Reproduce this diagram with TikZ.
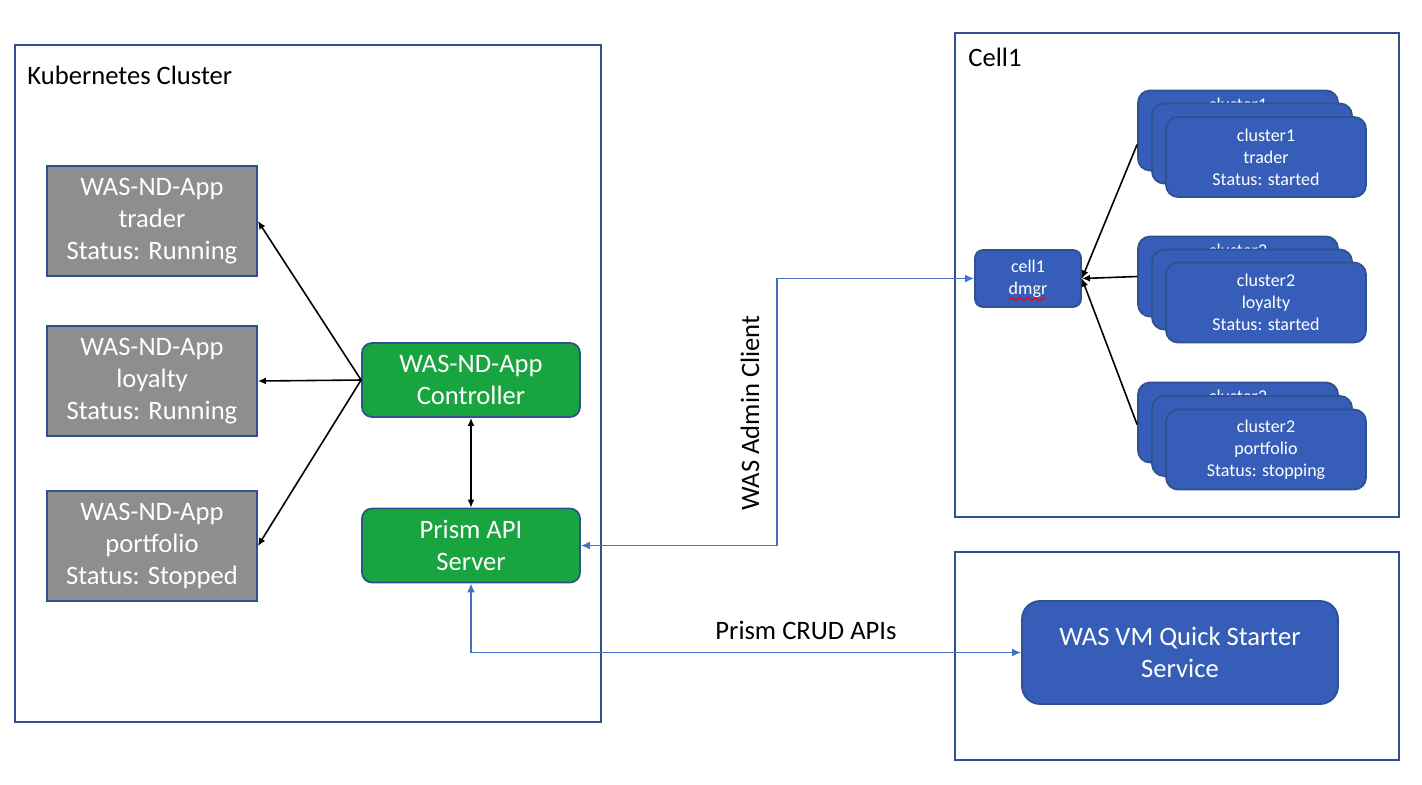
\documentclass[tikz,border=0pt]{standalone}
\usepackage{fontspec}
\setmainfont{Carlito}
\usepackage{tikz}
\usetikzlibrary{
	arrows.meta,
	positioning,
	decorations.pathmorphing,
}
\definecolor{edgeblue}{RGB}{47,82,143}
\definecolor{boxblue}{RGB}{54,94,184}
\definecolor{linkblue}{RGB}{68,114,196}
\definecolor{appgray}{RGB}{142,142,142}
\definecolor{ctrlgreen}{RGB}{24,164,62}
\tikzset{default box/.style={
	draw=edgeblue,
	line width=0.9pt,
	text=white,
	align=center,
	inner sep=0mm,
}}
\newcommand{\peek}[1]{\raisebox{-2.5pt}[0pt][0pt]{#1}\\\strut\\\strut}

\begin{document}
\begin{tikzpicture}[
x=0.5pt, y=-0.5pt,
line width=0.8pt,
big/.style={font=\fontsize{13.3}{16}\selectfont},
small/.style={font=\fontsize{9}{11}\selectfont},
]
\useasboundingbox (0,0) rectangle (1422,784);

\tikzset{
	app/.style={default box, big, fill=appgray, minimum width=105pt, minimum height=55pt},
	ctrl/.style={default box, big, fill=ctrlgreen, rounded corners=5pt, minimum width=109pt, minimum height=37pt},
	cl/.style={default box, small, fill=boxblue, rounded corners=6pt, minimum width=100pt, minimum height=40pt},
	container/.style={draw=edgeblue, line width=0.9pt},
	bk/.style={-{Latex[length=4pt,width=3.5pt]}, black},
	both/.style={{Latex[length=4pt,width=3.5pt]}-{Latex[length=4pt,width=3.5pt]}},
	lnk/.style={{Latex[length=4.5pt,width=4pt]}-{Latex[length=4.5pt,width=4pt]}, linkblue},
}

% containers
\draw[container] (15,45) rectangle (601,722);
\draw[container] (955,33) rectangle (1399,517);
\draw[container] (955,552) rectangle (1399,760);
\node(kube)[big, anchor=west] at(20,75) {Kubernetes Cluster};
\node(cell)[big, anchor=west] at(961,57) {Cell1};

\begin{scope}[every node/.style={app}]
\node(trader)		at(152,221)		{WAS-ND-App\\trader\\Status: Running};
\node(loyalty)		at(152,381)		{WAS-ND-App\\loyalty\\Status: Running};
\node(portfolio)	at(152,546)		{WAS-ND-App\\portfolio\\Status: Stopped};
\end{scope}

\begin{scope}[every node/.style={ctrl}]
\node(ctrl)		at(471,380)		{WAS-ND-App\\Controller};
\node(prism)	at(471,545.5)	{Prism API\\Server};
\end{scope}

\begin{scope}[every node/.style={cl}]
\node(dmgr)[minimum width=53pt, minimum height=28.5pt, rounded corners=4pt] at(1028,278.5) {cell1\\dmgr};
% stacked copies behind the front box
\node(c1b)	at(1238,130.5)	{\peek{cluster1}};
\node(c1m)	at(1252,143.5)	{};
\node(c1)	at(1266,157)	{cluster1\\trader\\Status: started};
\node(c2b)	at(1238,276.5)	{\peek{cluster2}};
\node(c2m)	at(1252,289.5)	{};
\node(c2)	at(1266,302.5)	{cluster2\\loyalty\\Status: started};
\node(c3b)	at(1238,422.5)	{\peek{cluster2}};
\node(c3m)	at(1252,436)	{};
\node(c3)	at(1266,449.5)	{cluster2\\portfolio\\Status: stopping};
\node(vm)[big, minimum width=158pt, minimum height=51.5pt, rounded corners=9pt] at(1180,652.5) {WAS VM Quick Starter\\Service};
\end{scope}

% spell check mark
\draw[red, line width=0.6pt, decorate, decoration={snake, amplitude=0.7pt, segment length=4pt}] (1009,299) -- (1046,299);

\begin{scope}[bk]
\draw (ctrl.west) to (trader.east);
\draw (ctrl.west) to (loyalty.east);
\draw (ctrl.west) to (portfolio.east);
\draw[both] (ctrl) to (prism);
\draw ([yshift=-7pt]c1b.west) to (dmgr.east);
\draw (c2b.west) to (dmgr.east);
\draw ([yshift=-1pt]c3b.west) to (dmgr.east);
\end{scope}

\begin{scope}[lnk]
\draw (dmgr.west) -- ++(-197,0) |- (prism.east);
\draw (prism.south) |- (vm.west);
\end{scope}

\node(admin)[big, rotate=90] at(750,413) {WAS Admin Client};
\node(crud)[big] at(806,630) {Prism CRUD APIs};

\end{tikzpicture}
\end{document}
